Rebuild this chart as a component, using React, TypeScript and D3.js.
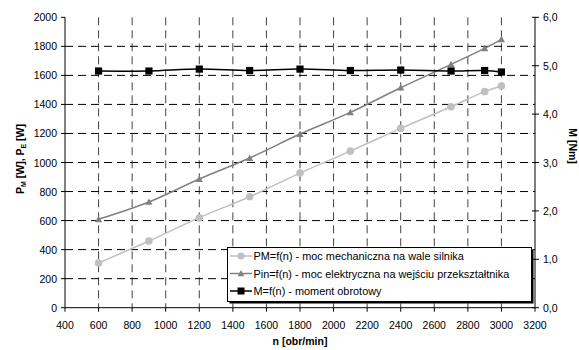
import React from "react";
import * as d3 from "d3";

const nValues = [600, 900, 1200, 1500, 1800, 2100, 2400, 2700, 2900, 3000];
const pmValues = [308, 459, 620, 764, 927, 1078, 1235, 1384, 1488, 1527];
const pinValues = [609, 728, 886, 1031, 1196, 1345, 1515, 1676, 1786, 1848];
const mValues = [4.89, 4.89, 4.93, 4.9, 4.93, 4.9, 4.91, 4.89, 4.9, 4.87];

const xTicks = d3.range(400, 3201, 200);
const yLeftTicks = d3.range(0, 2001, 200);
const yRightTicks = [0, 1, 2, 3, 4, 5, 6];
const legendLabels = [
  "PM=f(n) - moc mechaniczna na wale silnika",
  "Pin=f(n) - moc elektryczna na wejściu przekształtnika",
  "M=f(n) - moment obrotowy",
];

const W = 579;
const H = 350;
const left = 65;
const right = 535;
const top = 17.3;
const bottom = 307.7;
const font = "'Liberation Sans', Arial, sans-serif";

export default function App() {
  const x = d3.scaleLinear().domain([400, 3200]).range([left, right]);
  const yL = d3.scaleLinear().domain([0, 2000]).range([bottom, top]);
  const yR = d3.scaleLinear().domain([0, 6]).range([bottom, top]);

  const curve = d3.curveCatmullRom.alpha(0.5);
  const linePM = d3
    .line<number>()
    .x((_, i) => x(nValues[i]))
    .y((d) => yL(d))
    .curve(curve);
  const lineM = d3
    .line<number>()
    .x((_, i) => x(nValues[i]))
    .y((d) => yR(d))
    .curve(curve);

  const tri = (cx: number, cy: number, s: number) =>
    `M${cx},${cy - s}L${cx + s},${cy + s * 0.8}L${cx - s},${cy + s * 0.8}Z`;

  const gridV = xTicks.filter((t) => t > 400 && t < 3200);
  const gridH = yLeftTicks.filter((t) => t > 0 && t < 2000);

  const lgX = 227.5;
  const lgY = 247.5;
  const lgW = 304;
  const lgH = 54;
  const rowY = [256, 273.5, 291];

  return (
    <svg width={W} height={H} style={{ position: "absolute", left: 0, top: 0, background: "#fff" }} fontFamily={font}>
      <rect x={0} y={0} width={W} height={H} fill="#fff" />
      {/* grid */}
      {gridV.map((t) => (
        <line key={"gv" + t} x1={x(t)} x2={x(t)} y1={top} y2={bottom} stroke="#444" strokeWidth={1} strokeDasharray="8,5" />
      ))}
      {gridH.map((t) => (
        <line key={"gh" + t} x1={left} x2={right} y1={yL(t)} y2={yL(t)} stroke="#000" strokeWidth={1} strokeDasharray="8,5" />
      ))}
      {/* axes */}
      <line x1={left} x2={left} y1={top} y2={bottom} stroke="#000" />
      <line x1={right} x2={right} y1={top} y2={bottom} stroke="#000" />
      <line x1={left} x2={right} y1={bottom} y2={bottom} stroke="#000" />
      {xTicks.map((t) => (
        <g key={"xt" + t}>
          <line x1={x(t)} x2={x(t)} y1={bottom} y2={bottom + 4} stroke="#000" />
          <text x={x(t)} y={bottom + 21} fontSize={10.5} textAnchor="middle">
            {t}
          </text>
        </g>
      ))}
      {yLeftTicks.map((t) => (
        <g key={"yl" + t}>
          <line x1={left - 4} x2={left} y1={yL(t)} y2={yL(t)} stroke="#000" />
          <text x={left - 8} y={yL(t) + 4} fontSize={10.5} textAnchor="end">
            {t}
          </text>
        </g>
      ))}
      {yRightTicks.map((t) => (
        <g key={"yr" + t}>
          <line x1={right - 3} x2={right + 4} y1={yR(t)} y2={yR(t)} stroke="#000" />
          <text x={right + 8} y={yR(t) + 4} fontSize={10.5} textAnchor="start">
            {t.toFixed(1).replace(".", ",")}
          </text>
        </g>
      ))}
      {/* titles */}
      <text x={300} y={345} fontSize={10.5} fontWeight="bold" textAnchor="middle">
        n [obr/min]
      </text>
      <text transform="translate(24,159) rotate(-90)" fontSize={10.5} fontWeight="bold" textAnchor="middle">
        P<tspan fontSize={7} dy={2}>M</tspan>
        <tspan dy={-2}> [W], P</tspan>
        <tspan fontSize={7} dy={2}>E</tspan>
        <tspan dy={-2}> [W]</tspan>
      </text>
      <text transform="translate(569,146) rotate(90)" fontSize={10.5} fontWeight="bold" textAnchor="middle">
        M [Nm]
      </text>
      {/* series */}
      <path d={linePM(pmValues) || ""} fill="none" stroke="#c0c0c0" strokeWidth={1.5} />
      <path d={linePM(pinValues) || ""} fill="none" stroke="#808080" strokeWidth={1.5} />
      <path d={lineM(mValues) || ""} fill="none" stroke="#000" strokeWidth={1.5} />
      {pmValues.map((v, i) => (
        <circle key={"pm" + i} cx={x(nValues[i])} cy={yL(v)} r={3.8} fill="#c0c0c0" />
      ))}
      {pinValues.map((v, i) => (
        <path key={"pin" + i} d={tri(x(nValues[i]), yL(v), 3.6)} fill="#808080" />
      ))}
      {mValues.map((v, i) => (
        <rect key={"m" + i} x={x(nValues[i]) - 3.6} y={yR(v) - 3.6} width={7.2} height={7.2} fill="#000" />
      ))}
      {/* legend */}
      <rect x={lgX + 2} y={lgY + 2} width={lgW} height={lgH} fill="#000" />
      <rect x={lgX} y={lgY} width={lgW} height={lgH} fill="#fff" stroke="#000" strokeWidth={1} />
      {legendLabels.map((lab, i) => {
        const cy = rowY[i];
        const color = ["#c0c0c0", "#808080", "#000"][i];
        const cx = 241;
        return (
          <g key={"lg" + i}>
            <line x1={230} x2={252} y1={cy} y2={cy} stroke={color} strokeWidth={1.5} />
            {i === 0 && <circle cx={cx} cy={cy} r={3.6} fill={color} />}
            {i === 1 && <path d={tri(cx, cy, 3.4)} fill={color} />}
            {i === 2 && <rect x={cx - 3.5} y={cy - 3.5} width={7} height={7} fill={color} />}
            <text x={253.5} y={cy + 4} fontSize={10.9}>
              {lab}
            </text>
          </g>
        );
      })}
    </svg>
  );
}
